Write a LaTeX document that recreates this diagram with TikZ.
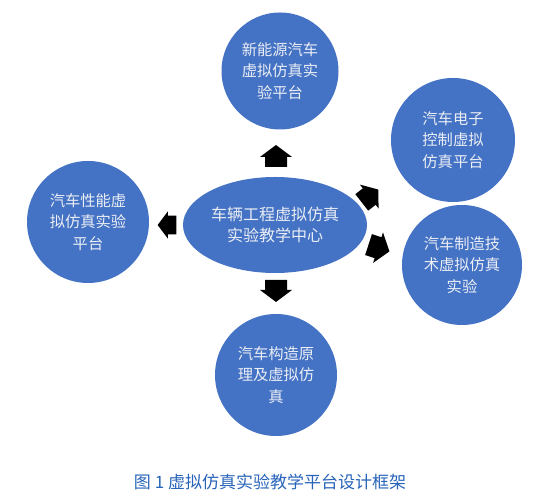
\documentclass[tikz,border=0pt]{standalone}
\usepackage{fontspec}
\setmainfont{Noto Sans CJK SC}
\definecolor{cfill}{RGB}{68,114,196}
\definecolor{ctext}{RGB}{235,238,245}
\definecolor{capblue}{RGB}{40,100,185}
\tikzset{
  bubble/.style={circle,fill=cfill,inner sep=0pt,text=ctext,align=center,
    font=\fontsize{15.3}{21.5}\selectfont},
  hub/.style={ellipse,fill=cfill,inner sep=0pt,text=ctext,align=center,
    font=\fontsize{16}{21}\selectfont},
  blockarr/.style={fill=black}
}
\usetikzlibrary{shapes.geometric}
\newcommand{\blkarrow}[4]{% x,y,angle,scale
  \begin{scope}[shift={(#1,#2)},rotate=#3,scale=#4]
    \fill (-11,-11) -- (-1,-11) -- (-1,-16) -- (11,0) -- (-1,16) -- (-1,11) -- (-11,11) -- cycle;
  \end{scope}}
\begin{document}
\begin{tikzpicture}[x=1pt,y=1pt]
\useasboundingbox (0,0) rectangle (549,494);
\node[bubble,minimum size=117pt] (top) at (280,423) {新能源汽车\\虚拟仿真实\\验平台};
\node[bubble,minimum size=124pt] (tr) at (453,354) {汽车电子\\控制虚拟\\仿真平台};
\node[bubble,minimum size=120pt] (br) at (462,229) {汽车制造技\\术虚拟仿真\\实验};
\node[bubble,minimum size=122pt] (lf) at (88,272) {汽车性能虚\\拟仿真实验\\平台};
\node[bubble,minimum size=122pt] (bt) at (276,119) {汽车构造原\\理及虚拟仿\\真};
\node[hub,minimum width=184pt,minimum height=96pt] (hub) at (275,269) {车辆工程虚拟仿真\\实验教学中心};
\blkarrow{276}{338}{90}{1}
\blkarrow{276}{203}{-90}{1}
\blkarrow{167}{269}{180}{0.85}
\blkarrow{370}{298}{38}{0.95}
\blkarrow{379}{246}{-18}{1}
\node[text=capblue,font=\fontsize{17}{19}\selectfont] (cap) at (270,12) {图 1 虚拟仿真实验教学平台设计框架};
\end{tikzpicture}
\end{document}
